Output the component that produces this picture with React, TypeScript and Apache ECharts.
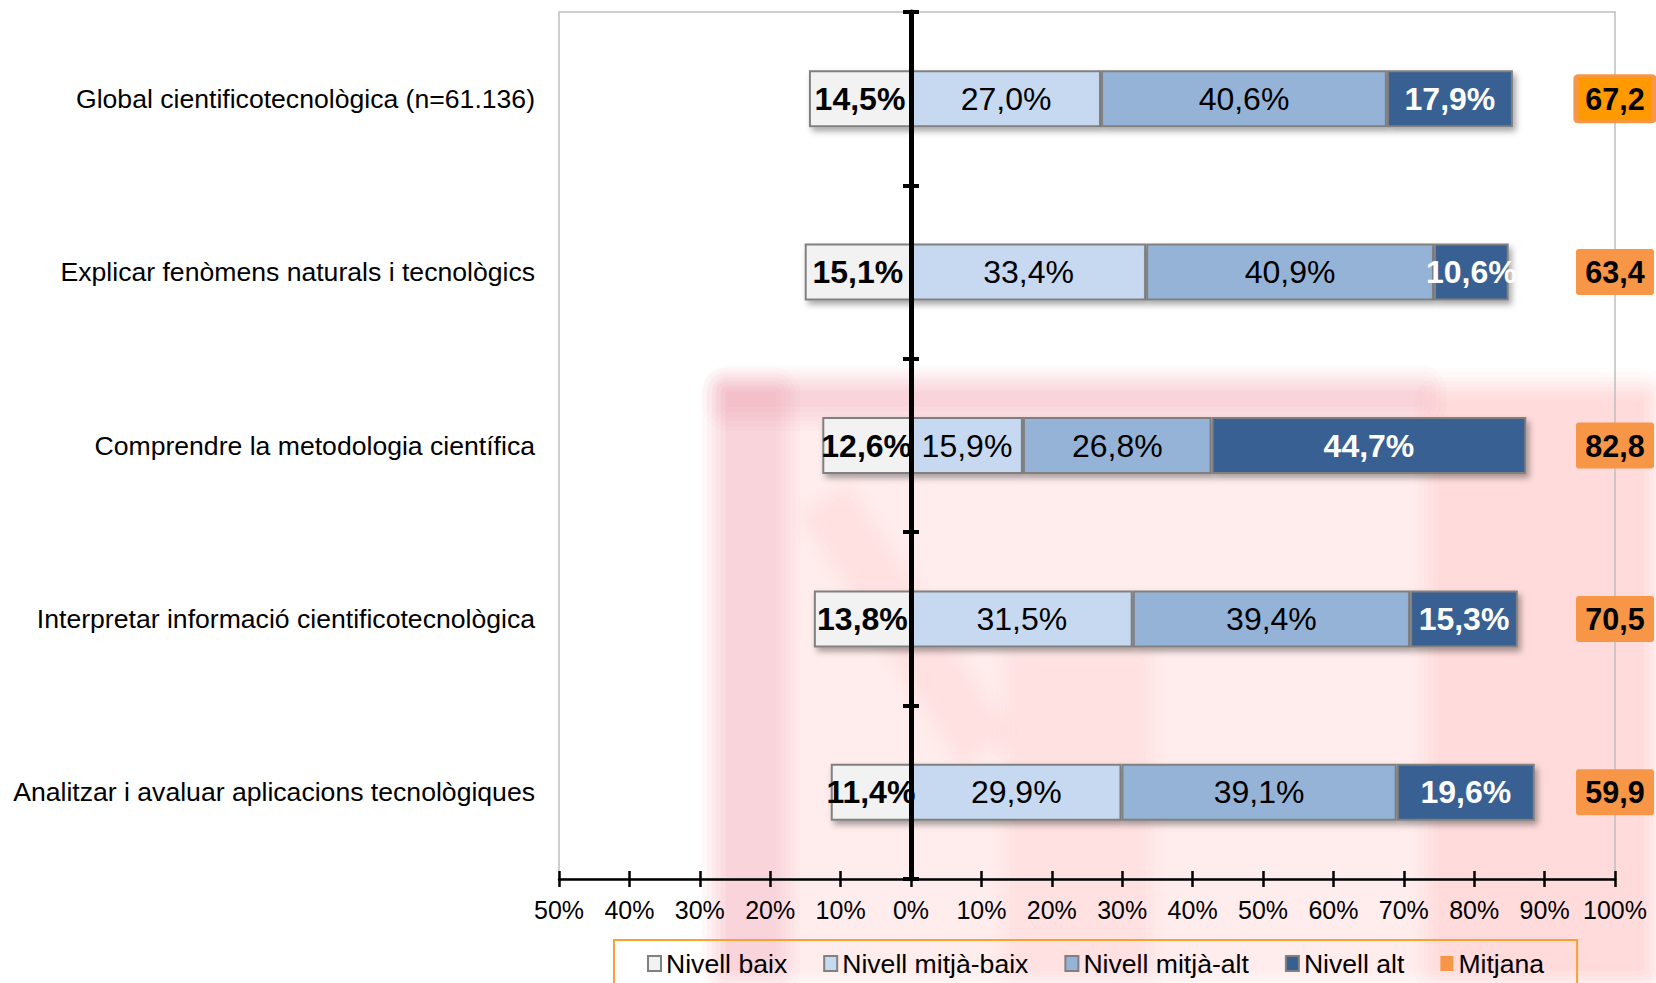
import React, { useEffect, useRef } from "react";
import * as echarts from "echarts";

const categories = [
  "Global cientificotecnològica (n=61.136)",
  "Explicar fenòmens naturals i tecnològics",
  "Comprendre la metodologia científica",
  "Interpretar informació cientificotecnològica",
  "Analitzar i avaluar aplicacions tecnològiques",
];
const nivellBaix = [14.5, 15.1, 12.6, 13.8, 11.4];
const nivellMitjaBaix = [27.0, 33.4, 15.9, 31.5, 29.9];
const nivellMitjaAlt = [40.6, 40.9, 26.8, 39.4, 39.1];
const nivellAlt = [17.9, 10.6, 44.7, 15.3, 19.6];
const mitjana = [67.2, 63.4, 82.8, 70.5, 59.9];
const xTicks = { min: -50, max: 100, interval: 10 };

const FONT = "'Liberation Sans', Arial, sans-serif";
const fmtPct = (v: number) => Math.abs(v).toFixed(1).replace(".", ",") + "%";
const fmtNum = (v: number) => v.toFixed(1).replace(".", ",");

const shadow = {
  shadowColor: "rgba(0,0,0,0.35)",
  shadowBlur: 6,
  shadowOffsetX: 3,
  shadowOffsetY: 4,
};

// faint, blurred background watermark (soft-edged pink patches)
const wmShapes = [
  { cx: 1185, cy: 681, w: 942, h: 603, rot: 0, a: 0.1 },
  { cx: 751, cy: 681, w: 75, h: 603, rot: 0, a: 0.12 },
  { cx: 1074, cy: 398, w: 720, h: 42, rot: 0, a: 0.12 },
  { cx: 1541, cy: 686, w: 230, h: 593, rot: 0, a: 0.1 },
  { cx: 905, cy: 625, w: 300, h: 60, rot: -1.0, a: 0.08 },
  { cx: 1078, cy: 816, w: 150, h: 333, rot: 0, a: 0.08 },
];
const wmSteps = [-12, -7, -2, 2, 7, 12];
const watermark: any[] = [];
wmShapes.forEach((s) => {
  wmSteps.forEach((e) => {
    watermark.push({
      type: "rect",
      x: s.cx,
      y: s.cy,
      rotation: s.rot,
      z: -100,
      silent: true,
      shape: { x: -s.w / 2 - e, y: -s.h / 2 - e, width: s.w + 2 * e, height: s.h + 2 * e, r: Math.max(0, e + 14) },
      style: { fill: "rgb(228,55,90)", opacity: s.a / wmSteps.length },
    });
  });
});

export default function App() {
  const ref = useRef<HTMLDivElement>(null);
  useEffect(() => {
    if (!ref.current) return;
    const chart = echarts.init(ref.current, undefined, { renderer: "svg" });
    const barLabel = (weight: string, color: string) => ({
      show: true,
      position: "inside",
      formatter: (p: any) => fmtPct(p.value),
      fontSize: 32,
      fontWeight: weight,
      color,
      fontFamily: FONT,
      textBorderWidth: 0,
    });
    const barSeries = (name: string, data: number[], color: string, weight: string, labelColor: string) => ({
      name,
      type: "bar",
      stack: "total",
      xAxisIndex: 0,
      yAxisIndex: 0,
      barWidth: 57,
      data,
      itemStyle: { color, borderColor: "#808080", borderWidth: 2, ...shadow },
      label: barLabel(weight, labelColor),
      emphasis: { disabled: true },
    });
    const option: any = {
      animation: false,
      backgroundColor: "#ffffff",
      textStyle: { fontFamily: FONT },
      graphic: { elements: watermark },
      grid: {
        left: 559,
        right: 41,
        top: 12,
        bottom: 104,
        show: true,
        borderColor: "#BFBFBF",
        borderWidth: 1.5,
        backgroundColor: "transparent",
      },
      xAxis: [
        {
          type: "value",
          position: "bottom",
          min: xTicks.min,
          max: xTicks.max,
          interval: xTicks.interval,
          axisLine: { show: true, onZero: false, lineStyle: { color: "#000", width: 2.5 } },
          axisTick: { show: true, length: 8, lineStyle: { color: "#000", width: 2.5 } },
          axisLabel: {
            formatter: (v: number) => Math.abs(v) + "%",
            fontSize: 25,
            color: "#000",
            margin: 18,
            fontFamily: FONT,
          },
          splitLine: { show: false },
        },
        {
          type: "value",
          position: "bottom",
          min: xTicks.min,
          max: xTicks.max,
          interval: xTicks.interval,
          axisLine: { show: false, onZero: false },
          axisTick: { show: true, inside: true, length: 8, lineStyle: { color: "#000", width: 2.5 } },
          axisLabel: { show: false },
          splitLine: { show: false },
        },
      ],
      yAxis: [
        {
          type: "category",
          data: categories,
          inverse: true,
          position: "left",
          axisLine: { show: false, onZero: false },
          axisTick: { show: false },
          axisLabel: { fontSize: 26.6, color: "#000", margin: 24, fontFamily: FONT },
        },
        {
          type: "category",
          data: categories,
          inverse: true,
          position: "left",
          z: 10,
          axisLine: { show: true, onZero: true, onZeroAxisIndex: 0, lineStyle: { color: "#000", width: 5 } },
          axisTick: { show: true, length: 8, lineStyle: { color: "#000", width: 4 } },
          axisLabel: { show: false },
        },
        {
          type: "category",
          data: categories,
          inverse: true,
          position: "left",
          z: 10,
          axisLine: { show: false, onZero: true, onZeroAxisIndex: 0 },
          axisTick: { show: true, inside: true, length: 8, lineStyle: { color: "#000", width: 4 } },
          axisLabel: { show: false },
        },
      ],
      legend: {
        left: 614,
        top: 940,
        padding: [10, 33, 40, 33],
        borderColor: "#F7A233",
        borderWidth: 2,
        backgroundColor: "rgba(255,255,255,0)",
        itemGap: 36,
        itemWidth: 13,
        itemHeight: 15,
        textStyle: { fontSize: 26.6, color: "#000", fontFamily: FONT },
        itemStyle: { shadowBlur: 0, shadowOffsetX: 0, shadowOffsetY: 0, shadowColor: "transparent" },
        data: [
          { name: "Nivell baix", icon: "rect" },
          { name: "Nivell mitjà-baix", icon: "rect" },
          { name: "Nivell mitjà-alt", icon: "rect" },
          { name: "Nivell alt", icon: "rect" },
          { name: "Mitjana", icon: "rect" },
        ],
      },
      series: [
        barSeries("Nivell baix", nivellBaix.map((v) => -v), "#F2F2F2", "bold", "#000"),
        barSeries("Nivell mitjà-baix", nivellMitjaBaix, "#C6D9F1", "normal", "#000"),
        barSeries("Nivell mitjà-alt", nivellMitjaAlt, "#95B3D7", "normal", "#000"),
        barSeries("Nivell alt", nivellAlt, "#376092", "bold", "#fff"),
        {
          name: "Mitjana",
          type: "scatter",
          xAxisIndex: 0,
          yAxisIndex: 0,
          clip: false,
          symbol: "path://M3,0H75Q78,0 78,3V43Q78,46 75,46H3Q0,46 0,43V3Q0,0 3,0Z",
          symbolSize: [78, 46],
          z: 5,
          itemStyle: { color: "#F79646", opacity: 1 },
          data: mitjana.map((m, i) => ({
            value: [xTicks.max, i, m],
            itemStyle:
              i === 0
                ? { color: "#FF9900", borderColor: "#F79646", borderWidth: 4 }
                : { color: "#F79646" },
          })),
          label: {
            show: true,
            position: "inside",
            formatter: (p: any) => fmtNum(p.value[2]),
            fontSize: 30.5,
            fontWeight: "bold",
            color: "#000",
            fontFamily: FONT,
            textBorderWidth: 0,
          },
          emphasis: { disabled: true },
        },
      ],
    };
    chart.setOption(option);
    return () => chart.dispose();
  }, []);
  return (
    <div
      ref={ref}
      style={{ position: "absolute", left: 0, top: 0, width: 1656, height: 983, background: "#fff" }}
    />
  );
}
